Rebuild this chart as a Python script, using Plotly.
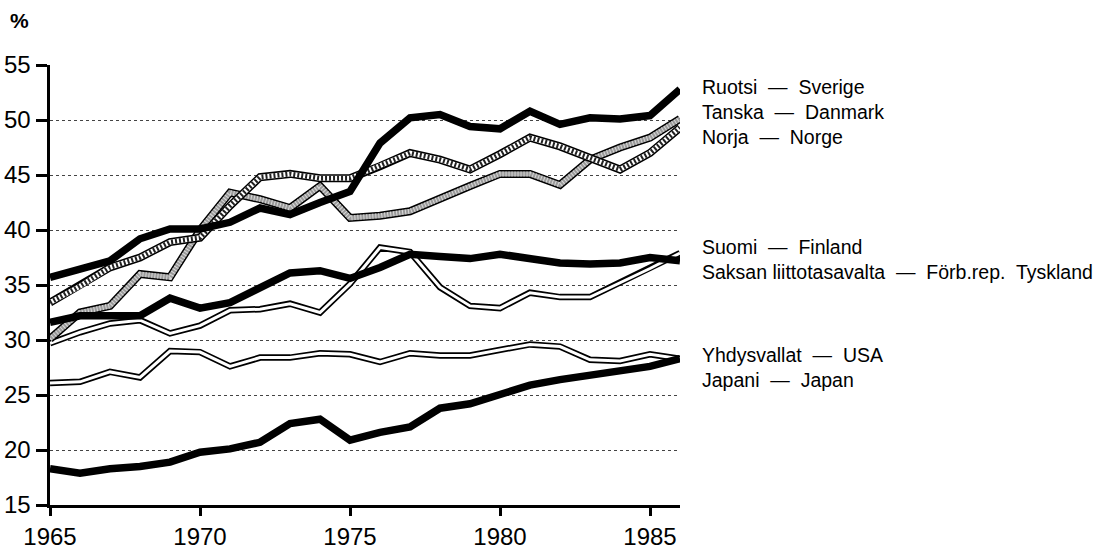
import plotly.graph_objects as go

# ---- data ----
years = list(range(1965, 1987))
sweden = [35.7, 36.5, 37.2, 39.2, 40.1, 40.1, 40.7, 42.0, 41.4, 42.5, 43.5,
          47.9, 50.2, 50.5, 49.4, 49.2, 50.8, 49.6, 50.2, 50.1, 50.4, 52.8]
denmark = [30.1, 32.5, 33.1, 36.0, 35.7, 40.0, 43.4, 42.8, 42.0, 44.0, 41.1,
           41.3, 41.7, 42.9, 44.0, 45.1, 45.1, 44.1, 46.4, 47.5, 48.4, 50.1]
norway = [33.4, 34.9, 36.6, 37.5, 38.9, 39.3, 42.2, 44.8, 45.1, 44.7, 44.7,
          45.8, 47.0, 46.4, 45.5, 46.9, 48.4, 47.6, 46.5, 45.5, 47.0, 49.3]
finland = [31.6, 32.2, 32.2, 32.2, 33.8, 32.9, 33.4, 34.8, 36.1, 36.3, 35.6,
           36.6, 37.8, 37.6, 37.4, 37.8, 37.4, 37.0, 36.9, 37.0, 37.5, 37.2]
germany = [29.7, 30.7, 31.5, 31.8, 30.6, 31.3, 32.7, 32.8, 33.3, 32.5, 35.1,
           38.4, 38.0, 34.8, 33.1, 32.9, 34.3, 33.9, 33.9, 35.2, 36.5, 37.9]
usa = [26.1, 26.2, 27.1, 26.6, 29.0, 28.9, 27.6, 28.4, 28.4, 28.8, 28.7,
       28.0, 28.8, 28.6, 28.6, 29.1, 29.6, 29.4, 28.2, 28.1, 28.7, 28.3]
japan = [18.3, 17.9, 18.3, 18.5, 18.9, 19.8, 20.1, 20.7, 22.4, 22.8, 20.9,
         21.6, 22.1, 23.8, 24.2, 25.1, 25.9, 26.4, 26.8, 27.1, 27.6, 28.3]

x_ticks = [1965, 1970, 1975, 1980, 1985]
y_ticks = [15, 20, 25, 30, 35, 40, 45, 50, 55]

label_texts = [
    "Ruotsi\u00a0 \u2014\u00a0 Sverige",
    "Tanska\u00a0 \u2014\u00a0 Danmark",
    "Norja\u00a0 \u2014\u00a0 Norge",
    "Suomi\u00a0 \u2014\u00a0 Finland",
    "Saksan liittotasavalta\u00a0 \u2014\u00a0 F\u00f6rb.rep.\u00a0 Tyskland",
    "Yhdysvallat\u00a0 \u2014\u00a0 USA",
    "Japani\u00a0 \u2014\u00a0 Japan",
]
label_y = [0.950, 0.893, 0.836, 0.586, 0.530, 0.341, 0.284]

FONT = "Liberation Sans, Arial, Helvetica, sans-serif"

fig = go.Figure()


def add(y, width, color, dash="solid"):
    fig.add_trace(go.Scatter(
        x=years, y=y, mode="lines",
        line=dict(color=color, width=width, dash=dash),
        hoverinfo="skip", showlegend=False,
    ))


# double (white) lines
for s in (usa, germany):
    add(s, 6.5, "black")
    add(s, 3, "white")

# gray textured line
add(denmark, 8, "black")
add(denmark, 5, "#9a9a9a")
add(denmark, 5, "#d8d8d8", dash="1px,2px")

# hatched line
add(norway, 8, "black")
add(norway, 5, "white")
add(norway, 5, "#222222", dash="2px,2px")

# thick black lines
for s in (finland, japan, sweden):
    add(s, 7.5, "black")

annotations = []
for txt, yy in zip(label_texts, label_y):
    annotations.append(dict(
        text=txt, x=1.032, y=yy, xref="paper", yref="paper",
        xanchor="left", yanchor="middle", showarrow=False,
        font=dict(family=FONT, size=19.5, color="black"),
    ))
annotations.append(dict(
    text="<b>%</b>", x=-0.066, y=1.10, xref="paper", yref="paper",
    xanchor="left", yanchor="middle", showarrow=False,
    font=dict(family=FONT, size=21, color="black"),
))

fig.update_layout(
    width=1107, height=552,
    margin=dict(l=50, r=427, t=65, b=47),
    paper_bgcolor="white", plot_bgcolor="white",
    font=dict(family=FONT, color="black"),
    annotations=annotations,
    hovermode=False,
    xaxis=dict(
        range=[1965, 1986], tickvals=x_ticks, ticktext=[str(v) for v in x_ticks],
        showgrid=False, zeroline=False,
        showline=True, linecolor="black", linewidth=3,
        ticks="outside", ticklen=8, tickwidth=3, tickcolor="black",
        tickfont=dict(family=FONT, size=24, color="black"),
        automargin=False,
    ),
    yaxis=dict(
        range=[15, 55], tickvals=y_ticks, ticktext=[str(v) for v in y_ticks],
        showgrid=True, gridcolor="#444444", gridwidth=1, griddash="dot",
        zeroline=False,
        showline=True, linecolor="black", linewidth=3.5,
        ticks="outside", ticklen=11, tickwidth=3, tickcolor="black",
        tickfont=dict(family=FONT, size=24, color="black"),
        automargin=False,
    ),
)

# remove the browser's default 8 px page margin so the figure fills the window
fig.write_html(
    "out.html",
    config={"displayModeBar": False, "staticPlot": True},
    post_script="document.body.style.margin='0';document.body.style.overflow='hidden';",
)
